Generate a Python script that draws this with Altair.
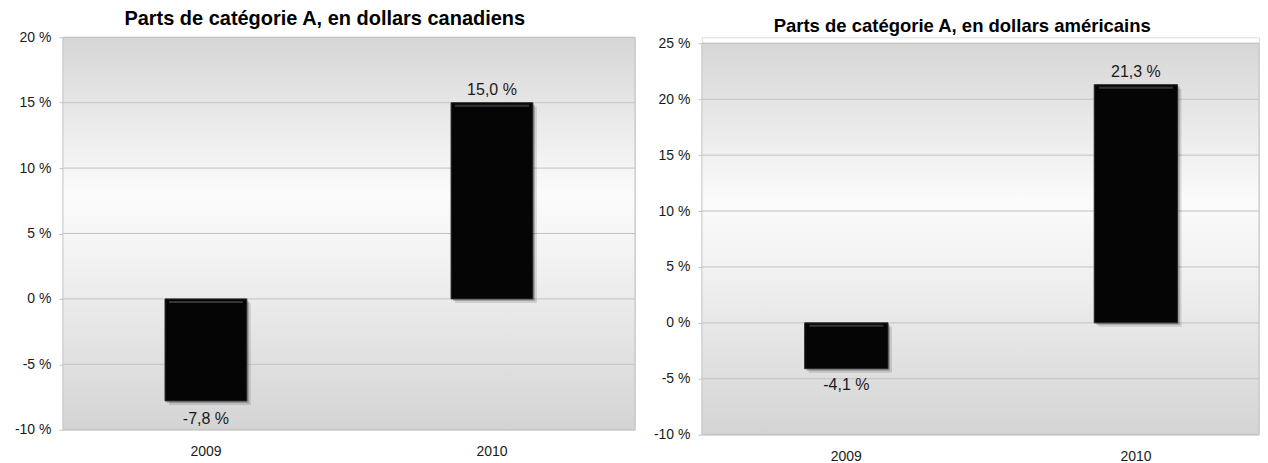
import altair as alt
import pandas as pd

years = ["2009", "2010"]
cad_values = [-7.8, 15.0]
usd_values = [-4.1, 21.3]
cad_ticks = [-10, -5, 0, 5, 10, 15, 20]
usd_ticks = [-10, -5, 0, 5, 10, 15, 20, 25]
titles = ["Parts de catégorie A, en dollars canadiens",
          "Parts de catégorie A, en dollars américains"]

FONT = "Liberation Sans"
TEXT = "#1a1a1a"
GRID = "#c3c3c3"


def fr_label(v):
    return f"{v:.1f}".replace(".", ",") + " %"


def panel(title, values, ticks, width, height, top, xscale, ext,
          title_size, title_dx, title_off, neg_dy):
    df = pd.DataFrame({"year": years, "v": values,
                       "top": [max(v, 0) for v in values],
                       "label": [fr_label(v) for v in values]})
    tdf = pd.DataFrame({"t": ticks})
    yscale = alt.Scale(domain=[ticks[0], ticks[-1]], nice=False, zero=False,
                       range=[height, top])
    yaxis = alt.Axis(values=ticks, labelExpr="datum.value + ' %'", grid=False,
                     domain=False, ticks=True, tickSize=4, tickColor=GRID,
                     labelPadding=8, labelFontSize=14, labelColor=TEXT,
                     labelFont=FONT, title=None, minExtent=ext, maxExtent=ext)
    xaxis = alt.Axis(labelAngle=0, ticks=False, tickSize=0, domain=False,
                     labelPadding=15, labelFontSize=14, labelColor=TEXT,
                     labelFont=FONT, title=None, grid=False)

    def Y(field):
        return alt.Y(f"{field}:Q", scale=yscale, axis=yaxis)

    def X():
        return alt.X("year:N", scale=xscale, axis=xaxis, sort=years)

    one = alt.Data(values=[{"k": 1}])
    grad = alt.LinearGradient(
        gradient="linear", x1=0, x2=0, y1=0, y2=1,
        stops=[alt.GradientStop(offset=0, color="#d6d6d6"),
               alt.GradientStop(offset=0.40, color="#fbfbfb"),
               alt.GradientStop(offset=0.55, color="#f3f3f3"),
               alt.GradientStop(offset=1, color="#d4d4d4")])
    bg = alt.Chart(one).mark_rect(fill=grad, stroke="#c4c4c4", strokeWidth=1).encode(
        x=alt.value(0), x2=alt.value("width"), y=alt.value(top), y2=alt.value("height"))
    grid = alt.Chart(tdf).mark_rule(color=GRID, strokeWidth=1).encode(y=Y("t"))
    base = alt.Chart(df)
    sh1 = base.mark_bar(color="#000000", opacity=0.22, xOffset=2, yOffset=2).encode(x=X(), y=Y("v"))
    sh2 = base.mark_bar(color="#000000", opacity=0.12, xOffset=4, yOffset=4).encode(x=X(), y=Y("v"))
    bars = base.mark_bar(color="#050505", stroke="#2a2a2a", strokeWidth=1).encode(x=X(), y=Y("v"))
    bevel = base.mark_tick(color="#4a4a4a", thickness=2, size=74, yOffset=3).encode(x=X(), y=Y("top"))
    pos = base.transform_filter("datum.v >= 0").mark_text(
        baseline="alphabetic", dy=-8, fontSize=16, font=FONT, color=TEXT).encode(
        x=X(), y=Y("v"), text="label:N")
    neg = base.transform_filter("datum.v < 0").mark_text(
        baseline="alphabetic", dy=neg_dy, fontSize=16, font=FONT, color=TEXT).encode(
        x=X(), y=Y("v"), text="label:N")
    layers = [bg, grid, sh2, sh1, bars, bevel, pos, neg]
    return alt.layer(*layers).properties(
        width=width, height=height,
        title=alt.TitleParams(title, font=FONT, fontSize=title_size, fontWeight="bold",
                              color="#000000", anchor="middle", frame="bounds",
                              baseline="alphabetic", offset=title_off, dx=title_dx))


left_x = alt.Scale(paddingInner=0.714, paddingOuter=0.357)
right_x = alt.Scale(paddingInner=0.712, paddingOuter=0.318, align=0.558)

left = panel(titles[0], cad_values, cad_ticks, 573, 393, 0, left_x, 54, 20, 2.5, -15, 23)
right = panel(titles[1], usd_values, usd_ticks, 558, 398, 6, right_x, 50, 18.5, 6.5, -14.5, 21)

chart = alt.hconcat(left, right, spacing=15).properties(
    padding={"left": 0, "top": 0, "right": 0, "bottom": 0}
).configure_view(stroke=None).configure(background="#ffffff")

chart.save("out.html", embed_options={"renderer": "svg", "actions": False})
